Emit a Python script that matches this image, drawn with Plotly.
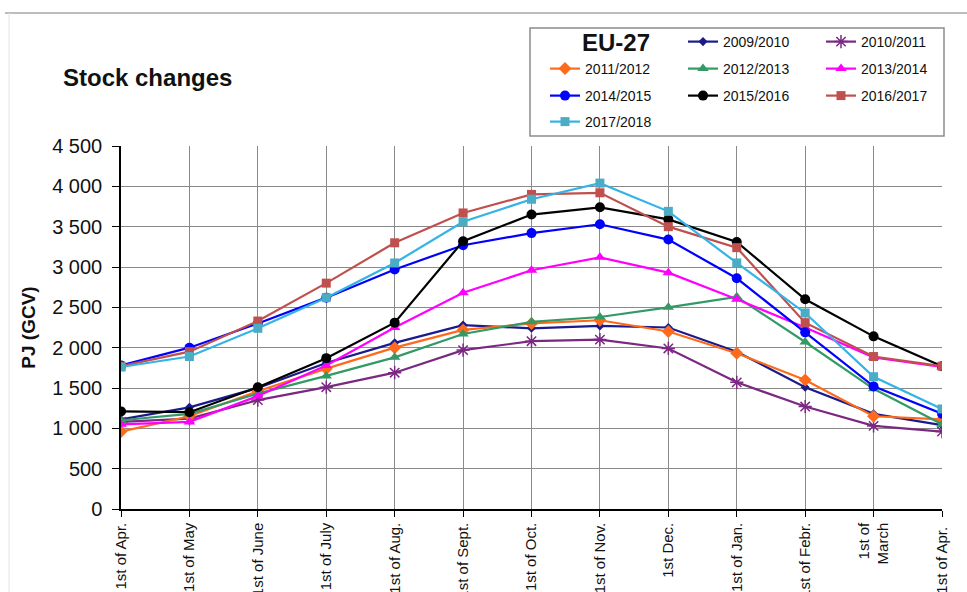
import plotly.graph_objects as go

# Category axis (1st of each month, April to April)
months = ["1st of Apr.", "1st of May", "1st of June", "1st of July", "1st of Aug.",
          "1st of Sept.", "1st of Oct.", "1st of Nov.", "1st Dec.", "1st of Jan.",
          "1st of Febr.", "1st of<br>March", "1st of Apr. "]

# Stock levels, PJ (GCV)
s2009_2010 = [1110, 1260, 1500, 1810, 2060, 2280, 2240, 2270, 2250, 1950, 1510, 1180, 1040]
s2010_2011 = [1080, 1120, 1350, 1510, 1690, 1970, 2080, 2100, 1990, 1570, 1270, 1030, 960]
s2011_2012 = [960, 1150, 1460, 1740, 2000, 2220, 2300, 2340, 2200, 1930, 1600, 1150, 1110]
s2012_2013 = [1100, 1180, 1430, 1650, 1880, 2170, 2320, 2380, 2500, 2630, 2070, 1490, 1050]
s2013_2014 = [1050, 1080, 1400, 1780, 2250, 2680, 2960, 3120, 2930, 2600, 2250, 1880, 1760]
s2014_2015 = [1780, 2000, 2300, 2620, 2970, 3270, 3420, 3530, 3340, 2860, 2190, 1520, 1180]
s2015_2016 = [1210, 1200, 1510, 1870, 2310, 3320, 3650, 3740, 3590, 3310, 2600, 2140, 1770]
s2016_2017 = [1770, 1950, 2330, 2800, 3300, 3670, 3900, 3920, 3500, 3240, 2310, 1890, 1770]
s2017_2018 = [1760, 1890, 2240, 2620, 3050, 3560, 3840, 4040, 3690, 3050, 2430, 1640, 1240]

y_ticks = [0, 500, 1000, 1500, 2000, 2500, 3000, 3500, 4000, 4500]
y_tick_text = ["0", "500", "1 000", "1 500", "2 000", "2 500", "3 000", "3 500", "4 000", "4 500"]

FONT = "Arial, Liberation Sans, sans-serif"

# name, values, line colour, symbol, size, marker colour, legend row
series = [
    ("2009/2010", s2009_2010, "#1A1A8C", "diamond", 7, "#1A1A8C", "legend"),
    ("2010/2011", s2010_2011, "#7B2882", "asterisk-open", 11, "#7B2882", "legend"),
    ("2011/2012", s2011_2012, "#FF6A1A", "diamond", 10, "#FF6A1A", "legend2"),
    ("2012/2013", s2012_2013, "#339966", "triangle-up", 10, "#339966", "legend2"),
    ("2013/2014", s2013_2014, "#FF00FF", "triangle-up", 10, "#FF00FF", "legend2"),
    ("2014/2015", s2014_2015, "#0000FF", "circle", 10, "#0000FF", "legend3"),
    ("2015/2016", s2015_2016, "#000000", "circle", 10, "#000000", "legend3"),
    ("2016/2017", s2016_2017, "#C0504D", "square", 9, "#C0504D", "legend3"),
    ("2017/2018", s2017_2018, "#33B3E6", "square", 9, "#4BACC6", "legend4"),
]

# plot area in page pixels: x 121..942, y 146..509
L, R, T, B = 121, 942, 146, 509
px = lambda x: (x - L) / (R - L)
py = lambda y: (B - y) / (B - T)

fig = go.Figure()

# blank slot in the legend grid, EU-27 is written over it
fig.add_trace(go.Scatter(x=[None], y=[None], mode="lines", name=" ", legend="legend",
                         line=dict(width=0, color="rgba(0,0,0,0)"), hoverinfo="skip"))

for name, vals, col, sym, size, mcol, leg in series:
    mline = dict(width=1.5, color=col) if sym == "asterisk-open" else dict(width=0)
    fig.add_trace(go.Scatter(
        x=months, y=vals, mode="lines+markers", name=name, legend=leg,
        line=dict(color=col, width=2.2),
        marker=dict(symbol=sym, size=size, color=mcol, line=mline),
    ))


def legend_row(top):
    return dict(orientation="h", x=px(545), y=py(top), xanchor="left", yanchor="top",
                borderwidth=0, bgcolor="rgba(0,0,0,0)",
                font=dict(size=14, family=FONT, color="#111111"),
                entrywidth=93, entrywidthmode="pixels", itemwidth=30,
                traceorder="normal")


fig.update_layout(
    width=967, height=592,
    paper_bgcolor="white", plot_bgcolor="white",
    margin=dict(l=L, r=967 - R, t=T, b=592 - B, autoexpand=False),
    font=dict(family=FONT, color="#111111"),
    title=dict(text="<b>Stock changes</b>", xref="container", yref="container",
               x=63 / 967, y=1 - 78 / 592, xanchor="left", yanchor="middle",
               font=dict(size=24, family=FONT, color="#111111")),
    showlegend=True,
    legend=legend_row(26), legend2=legend_row(53),
    legend3=legend_row(80), legend4=legend_row(106),
    xaxis=dict(type="category", range=[0, 12], showgrid=True, gridcolor="#8a8a8a",
               gridwidth=1, showline=True, linecolor="#000000", linewidth=1.5,
               ticks="outside", ticklen=6, tickcolor="#000000", tickangle=-90,
               tickfont=dict(size=15, family=FONT, color="#111111"),
               automargin=False, fixedrange=True),
    yaxis=dict(range=[0, 4500], tickvals=y_ticks, ticktext=y_tick_text,
               showgrid=True, gridcolor="#8a8a8a", gridwidth=1, zeroline=False,
               showline=True, linecolor="#000000", linewidth=1.5,
               ticks="outside", ticklen=7, tickcolor="#000000", ticklabelstandoff=6,
               tickfont=dict(size=20, family=FONT, color="#111111"),
               title=dict(text="<b>PJ (GCV)</b>", font=dict(size=19, family=FONT,
                                                          color="#111111"),
                          standoff=12),
               automargin=False, fixedrange=True),
    annotations=[dict(text="<b>EU-27</b>", xref="paper", yref="paper",
                      x=px(580), y=py(42), xanchor="left",
                      yanchor="middle", showarrow=False,
                      font=dict(size=24, family=FONT, color="#111111"))],
    shapes=[
        # outer frame of the source slide
        dict(type="line", xref="paper", yref="paper", x0=px(5), x1=px(967),
             y0=py(13), y1=py(13), line=dict(color="#bdbdbd", width=2)),
        dict(type="line", xref="paper", yref="paper", x0=px(9), x1=px(9),
             y0=py(13), y1=py(600), line=dict(color="#e3e3e3", width=1)),
        # legend box
        dict(type="rect", xref="paper", yref="paper", x0=px(530), x1=px(944),
             y0=py(28), y1=py(136), line=dict(color="#8c8c8c", width=1.5),
             layer="below"),
    ],
)

fig.write_html("out.html", config={"displayModeBar": False},
               post_script="document.body.style.margin='0';")
